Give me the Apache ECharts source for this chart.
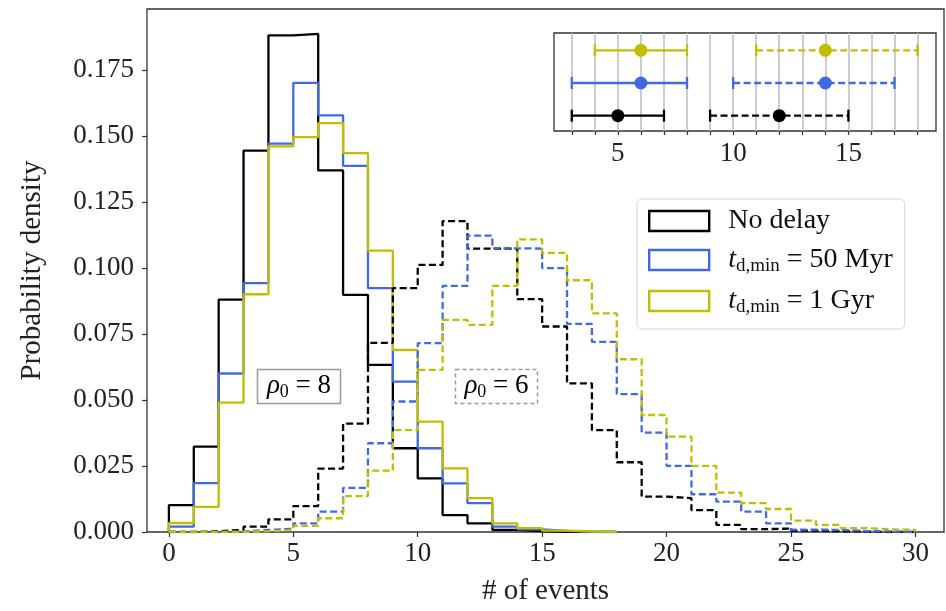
<!DOCTYPE html>
<html><head><meta charset="utf-8">
<script src="https://cdn.jsdelivr.net/npm/echarts@6/dist/echarts.min.js"></script>
<style>html,body{margin:0;padding:0;background:#fff}#c{width:946px;height:611px}</style>
</head><body><div id="c"></div>
<script>
// ---- data (bin width 1, bins start at 0) ----
const noDelay_rho8 = [0.0102, 0.0323, 0.088, 0.1444, 0.188, 0.1886, 0.1369, 0.0898, 0.0633, 0.0317, 0.0203, 0.0064, 0.0033, 0.0008, 0.0003, 0.0001, 0, 0];
const myr50_rho8   = [0.002, 0.0185, 0.060, 0.0942, 0.147, 0.170, 0.1577, 0.1386, 0.0923, 0.0569, 0.0317, 0.0184, 0.0109, 0.002, 0.001, 0.0004, 0.0001, 0];
const gyr1_rho8    = [0.0034, 0.0095, 0.049, 0.090, 0.146, 0.1495, 0.1548, 0.1434, 0.1065, 0.0689, 0.0418, 0.0241, 0.0128, 0.0033, 0.0015, 0.0005, 0.0002, 0];
const noDelay_rho6 = [0, 0.0003, 0.0008, 0.002, 0.0048, 0.0098, 0.024, 0.041, 0.0716, 0.0923, 0.1011, 0.1177, 0.1073, 0.1073, 0.0882, 0.0778, 0.0563, 0.0386, 0.0264, 0.0134, 0.0128, 0.0083, 0.0027, 0.0011, 0.0013, 0.0005, 0.0003, 0.0002, 0, 0];
const myr50_rho6   = [0, 0, 0.0002, 0.0008, 0.0012, 0.0033, 0.0077, 0.0167, 0.0336, 0.0494, 0.0715, 0.0932, 0.1122, 0.1074, 0.1073, 0.0999, 0.0788, 0.072, 0.0522, 0.0376, 0.025, 0.0143, 0.0115, 0.0077, 0.0033, 0.0009, 0.0008, 0.0004, 0.0002, 0];
const gyr1_rho6    = [0, 0, 0, 0.0003, 0.0008, 0.0023, 0.0052, 0.0136, 0.0232, 0.0386, 0.0614, 0.0803, 0.0784, 0.0932, 0.1108, 0.1057, 0.0953, 0.0828, 0.0654, 0.0443, 0.0361, 0.025, 0.0149, 0.0109, 0.0087, 0.0043, 0.0027, 0.0015, 0.001, 0.0008];
const seriesNames = ['No delay', '50 Myr', '1 Gyr'];
const xTicks = [0, 5, 10, 15, 20, 25, 30];
const yTicks = [0, 0.025, 0.05, 0.075, 0.1, 0.125, 0.15, 0.175];
// inset: rows 0 = no delay, 1 = 50 Myr, 2 = 1 Gyr
const insetRows = [0, 1, 2];
const rho8_center = [5, 6, 6];
const rho8_low    = [3, 3, 4];
const rho8_high   = [7, 8, 8];
const rho6_center = [12, 14, 14];
const rho6_low    = [9, 10, 11];
const rho6_high   = [15, 17, 18];
const insetTickLabels = [5, 10, 15];
const insetGridValues = [3, 4, 5, 6, 7, 8, 9, 10, 11, 12, 13, 14, 15, 16, 17, 18];

// ---- styles ----
const colors = ['#000000', '#4169e1', '#bfbf00'];
const FONT = "'Liberation Serif', 'DejaVu Serif', serif";
const DASH = [7, 3.5];
const LW = 2.3;

function stepData(vals) {
  const d = [[0, 0]];
  vals.forEach((v, i) => d.push([i, v]));
  d.push([vals.length, vals[vals.length - 1]]);
  d.push([vals.length, 0]);
  return d;
}
function stepSeries(name, vals, color, dashed) {
  return {
    type: 'line', name: name, step: 'end', xAxisIndex: 0, yAxisIndex: 0,
    data: stepData(vals), showSymbol: false, symbol: 'none', silent: true,
    lineStyle: { color: color, width: LW, type: dashed ? DASH : 'solid' },
    itemStyle: { color: color }, z: 3
  };
}
function errRender(dashed) {
  return function (params, api) {
    const lo = api.value(0), hi = api.value(1), c = api.value(2), row = api.value(3);
    const p1 = api.coord([lo, row]), p2 = api.coord([hi, row]), pc = api.coord([c, row]);
    const col = colors[row];
    return {
      type: 'group', children: [
        { type: 'line', shape: { x1: p1[0], y1: p1[1], x2: p2[0], y2: p2[1] }, style: { stroke: col, lineWidth: LW, lineDash: dashed ? DASH : null } },
        { type: 'line', shape: { x1: p1[0], y1: p1[1] - 6, x2: p1[0], y2: p1[1] + 6 }, style: { stroke: col, lineWidth: LW } },
        { type: 'line', shape: { x1: p2[0], y1: p2[1] - 6, x2: p2[0], y2: p2[1] + 6 }, style: { stroke: col, lineWidth: LW } },
        { type: 'circle', shape: { cx: pc[0], cy: pc[1], r: 6.5 }, style: { fill: col } }
      ]
    };
  };
}
function errData(lo, hi, c) {
  return insetRows.map(r => [lo[r], hi[r], c[r], r]);
}
const annRich = {
  it: { fontFamily: FONT, fontStyle: 'italic', fontSize: 27, color: '#9a9a9a', lineHeight: 30 },
  sub: { fontFamily: FONT, fontSize: 18, color: '#9a9a9a', lineHeight: 12, verticalAlign: 'bottom' },
  n: { fontFamily: FONT, fontSize: 27, color: '#9a9a9a', lineHeight: 30 }
};

const chart = echarts.init(document.getElementById('c'), null, { renderer: 'canvas' });
chart.setOption({
  animation: false,
  backgroundColor: '#fff',
  textStyle: { fontFamily: FONT },
  grid: [
    { left: 147, top: 9, right: 2, bottom: 79, show: true, borderColor: '#333', borderWidth: 1.3, backgroundColor: 'transparent' },
    { left: 554, top: 33, width: 382, height: 98, show: true, borderColor: '#333', borderWidth: 1.3, backgroundColor: '#fff', z: 5 }
  ],
  xAxis: [
    {
      gridIndex: 0, type: 'value', min: -0.88, max: 31.15,
      axisLine: { show: false, onZero: false },
      axisTick: { show: true, customValues: xTicks, length: 5, lineStyle: { color: '#333', width: 1.2 } },
      axisLabel: { customValues: xTicks, fontFamily: FONT, fontSize: 27, color: '#222', margin: 8 },
      splitLine: { show: false },
      name: '# of events', nameLocation: 'middle', nameGap: 45,
      nameTextStyle: { fontFamily: FONT, fontSize: 29, color: '#222' }
    },
    {
      gridIndex: 1, type: 'value', min: 2.23, max: 18.8, z: 6,
      axisLine: { show: false, onZero: false },
      axisTick: { show: true, customValues: insetGridValues, length: 4, lineStyle: { color: '#333', width: 1.2 } },
      axisLabel: { customValues: insetTickLabels, fontFamily: FONT, fontSize: 27, color: '#222', margin: 9 },
      splitLine: { show: true, lineStyle: { color: '#bdbdbd', width: 1.5 } }
    }
  ],
  yAxis: [
    {
      gridIndex: 0, type: 'value', min: 0, max: 0.198,
      axisLine: { show: false, onZero: false },
      axisTick: { show: true, customValues: yTicks, length: 5, lineStyle: { color: '#333', width: 1.2 } },
      axisLabel: { customValues: yTicks, formatter: v => v.toFixed(3), fontFamily: FONT, fontSize: 27, color: '#222', margin: 13 },
      splitLine: { show: false },
      name: 'Probability density', nameLocation: 'middle', nameGap: 100,
      nameTextStyle: { fontFamily: FONT, fontSize: 29, color: '#222' }
    },
    { gridIndex: 1, type: 'value', min: -0.47, max: 2.53, show: false, axisLine: { onZero: false }, splitLine: { show: false } }
  ],
  legend: {
    left: 637, top: 199, orient: 'vertical', itemWidth: 60, itemHeight: 20, itemGap: 11,
    padding: [8, 12, 12, 11], backgroundColor: 'rgba(255,255,255,0.85)', borderColor: '#d5d5d5',
    borderWidth: 1, borderRadius: 5, selectedMode: false, z: 10,
    data: seriesNames.map((n, i) => ({ name: n, icon: 'rect', itemStyle: { color: 'rgba(255,255,255,0)', borderColor: colors[i], borderWidth: 2.4 } })),
    formatter: name => name === 'No delay' ? '{n|No delay}' : '{it|t}{sub|d,min}{n| = ' + name + '}',
    textStyle: {
      padding: [0, 0, 0, 14],
      rich: {
        n: { fontFamily: FONT, fontSize: 28, color: '#111', lineHeight: 32 },
        it: { fontFamily: FONT, fontStyle: 'italic', fontSize: 28, color: '#111', lineHeight: 32 },
        sub: { fontFamily: FONT, fontSize: 19, color: '#111', lineHeight: 13, verticalAlign: 'bottom' }
      }
    }
  },
  graphic: [
    { type: 'rect', shape: { x: 257.5, y: 369.5, width: 83, height: 34 }, style: { fill: 'rgba(255,255,255,0.8)', stroke: '#9a9a9a', lineWidth: 1.5 }, z: 20 },
    { type: 'text', x: 299, y: 386, style: { text: '{it|ρ}{sub|0}{n| = 8}', rich: annRich, align: 'center', verticalAlign: 'middle' }, z: 21 },
    { type: 'rect', shape: { x: 455.5, y: 369.5, width: 82, height: 34 }, style: { fill: 'rgba(255,255,255,0.8)', stroke: '#9a9a9a', lineWidth: 1.5, lineDash: [4, 3] }, z: 20 },
    { type: 'text', x: 496.5, y: 386, style: { text: '{it|ρ}{sub|0}{n| = 6}', rich: annRich, align: 'center', verticalAlign: 'middle' }, z: 21 }
  ],
  series: [
    stepSeries(seriesNames[0], noDelay_rho8, colors[0], false),
    stepSeries(seriesNames[1], myr50_rho8, colors[1], false),
    stepSeries(seriesNames[2], gyr1_rho8, colors[2], false),
    stepSeries('No delay (rho6)', noDelay_rho6, colors[0], true),
    stepSeries('50 Myr (rho6)', myr50_rho6, colors[1], true),
    stepSeries('1 Gyr (rho6)', gyr1_rho6, colors[2], true),
    {
      type: 'custom', xAxisIndex: 1, yAxisIndex: 1, renderItem: errRender(false), silent: true, z: 8,
      encode: { x: [0, 1, 2], y: 3 }, data: errData(rho8_low, rho8_high, rho8_center)
    },
    {
      type: 'custom', xAxisIndex: 1, yAxisIndex: 1, renderItem: errRender(true), silent: true, z: 8,
      encode: { x: [0, 1, 2], y: 3 }, data: errData(rho6_low, rho6_high, rho6_center)
    }
  ]
});
</script>
</body></html>
